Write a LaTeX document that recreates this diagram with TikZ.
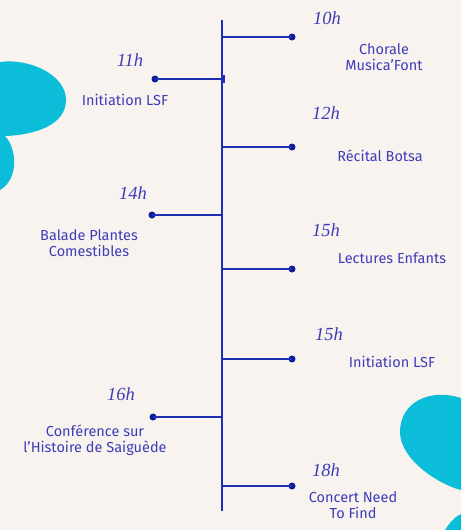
\documentclass[tikz,border=0pt]{standalone}
\usepackage{fontspec}
\setmainfont{Fira Sans}
\newfontfamily\timefont{Liberation Serif}
\definecolor{bg}{HTML}{F8F3EF}
\definecolor{blob}{HTML}{0BBDD9}
\definecolor{linec}{HTML}{1E2FB5}
\definecolor{dotc}{HTML}{0A1C9C}
\definecolor{txt}{HTML}{3D3DB8}
\begin{document}
\begin{tikzpicture}[x=1pt,y=-1pt,
  timelbl/.style={font=\timefont\itshape\fontsize{18.5}{18}\selectfont, text=txt, inner sep=0pt},
  evlbl/.style={font=\fontsize{14.5}{16.5}\selectfont, text=txt, align=center, inner sep=0pt},
  branch/.style={draw=linec, line width=1.5pt},
  dotn/.style={circle, fill=dotc, minimum size=7pt, inner sep=0pt}]
\fill[bg] (0,0) rectangle (461,530);
\useasboundingbox (0,0) rectangle (461,530);
% blobs
\fill[blob] (0,62) .. controls (30,58) and (66,75) .. (66,100)
  .. controls (66,125) and (35,135) .. (5,136)
  .. controls (18,150) and (18,180) .. (0,190) -- cycle;
\fill[blob] (461,398) .. controls (430,388) and (400,402) .. (400,432)
  .. controls (400,460) and (440,485) .. (461,490) -- cycle;
\fill[blob] (445,530) .. controls (450,522) and (456,516) .. (461,514) -- (461,530) -- cycle;
% spine
\coordinate (top) at (222,20);
\coordinate (bot) at (222,511);
\draw[branch] (top) -- (bot);
% right branches
\foreach \n/\y in {a/37,b/147,c/269,d/359,e/486}{
  \coordinate (s\n) at (222,\y);
  \node[dotn] (d\n) at (292,\y) {};
  \draw[branch] (s\n) -- (d\n.center);
}
% left branches
\foreach \n/\y/\x in {f/79/155,g/215/152,h/417/153}{
  \coordinate (s\n) at (222,\y);
  \node[dotn] (d\n) at (\x,\y) {};
  \draw[branch] (s\n) -- (d\n.center);
}
\draw[branch] (224,75) -- (224,83);
% labels
\node[timelbl] (t1) at (327,18) {10h};
\node[evlbl] (e1) at (384,57) {Chorale\\Musica'Font};
\node[timelbl] (t2) at (130,60) {11h};
\node[evlbl] (e2) at (125,100) {Initiation LSF};
\node[timelbl] (t3) at (326,113) {12h};
\node[evlbl] (e3) at (380,156) {Récital Botsa};
\node[timelbl] (t4) at (133,193) {14h};
\node[evlbl] (e4) at (89,243) {Balade Plantes\\Comestibles};
\node[timelbl] (t5) at (326,230) {15h};
\node[evlbl] (e5) at (392,258) {Lectures Enfants};
\node[timelbl] (t6) at (329,334) {15h};
\node[evlbl] (e6) at (392,362) {Initiation LSF};
\node[timelbl] (t7) at (121,394) {16h};
\node[evlbl] (e7) at (95,440) {Conférence sur\\l'Histoire de Saiguède};
\node[timelbl] (t8) at (326,470) {18h};
\node[evlbl] (e8) at (353,505) {Concert Need\\To Find};
\end{tikzpicture}
\end{document}
